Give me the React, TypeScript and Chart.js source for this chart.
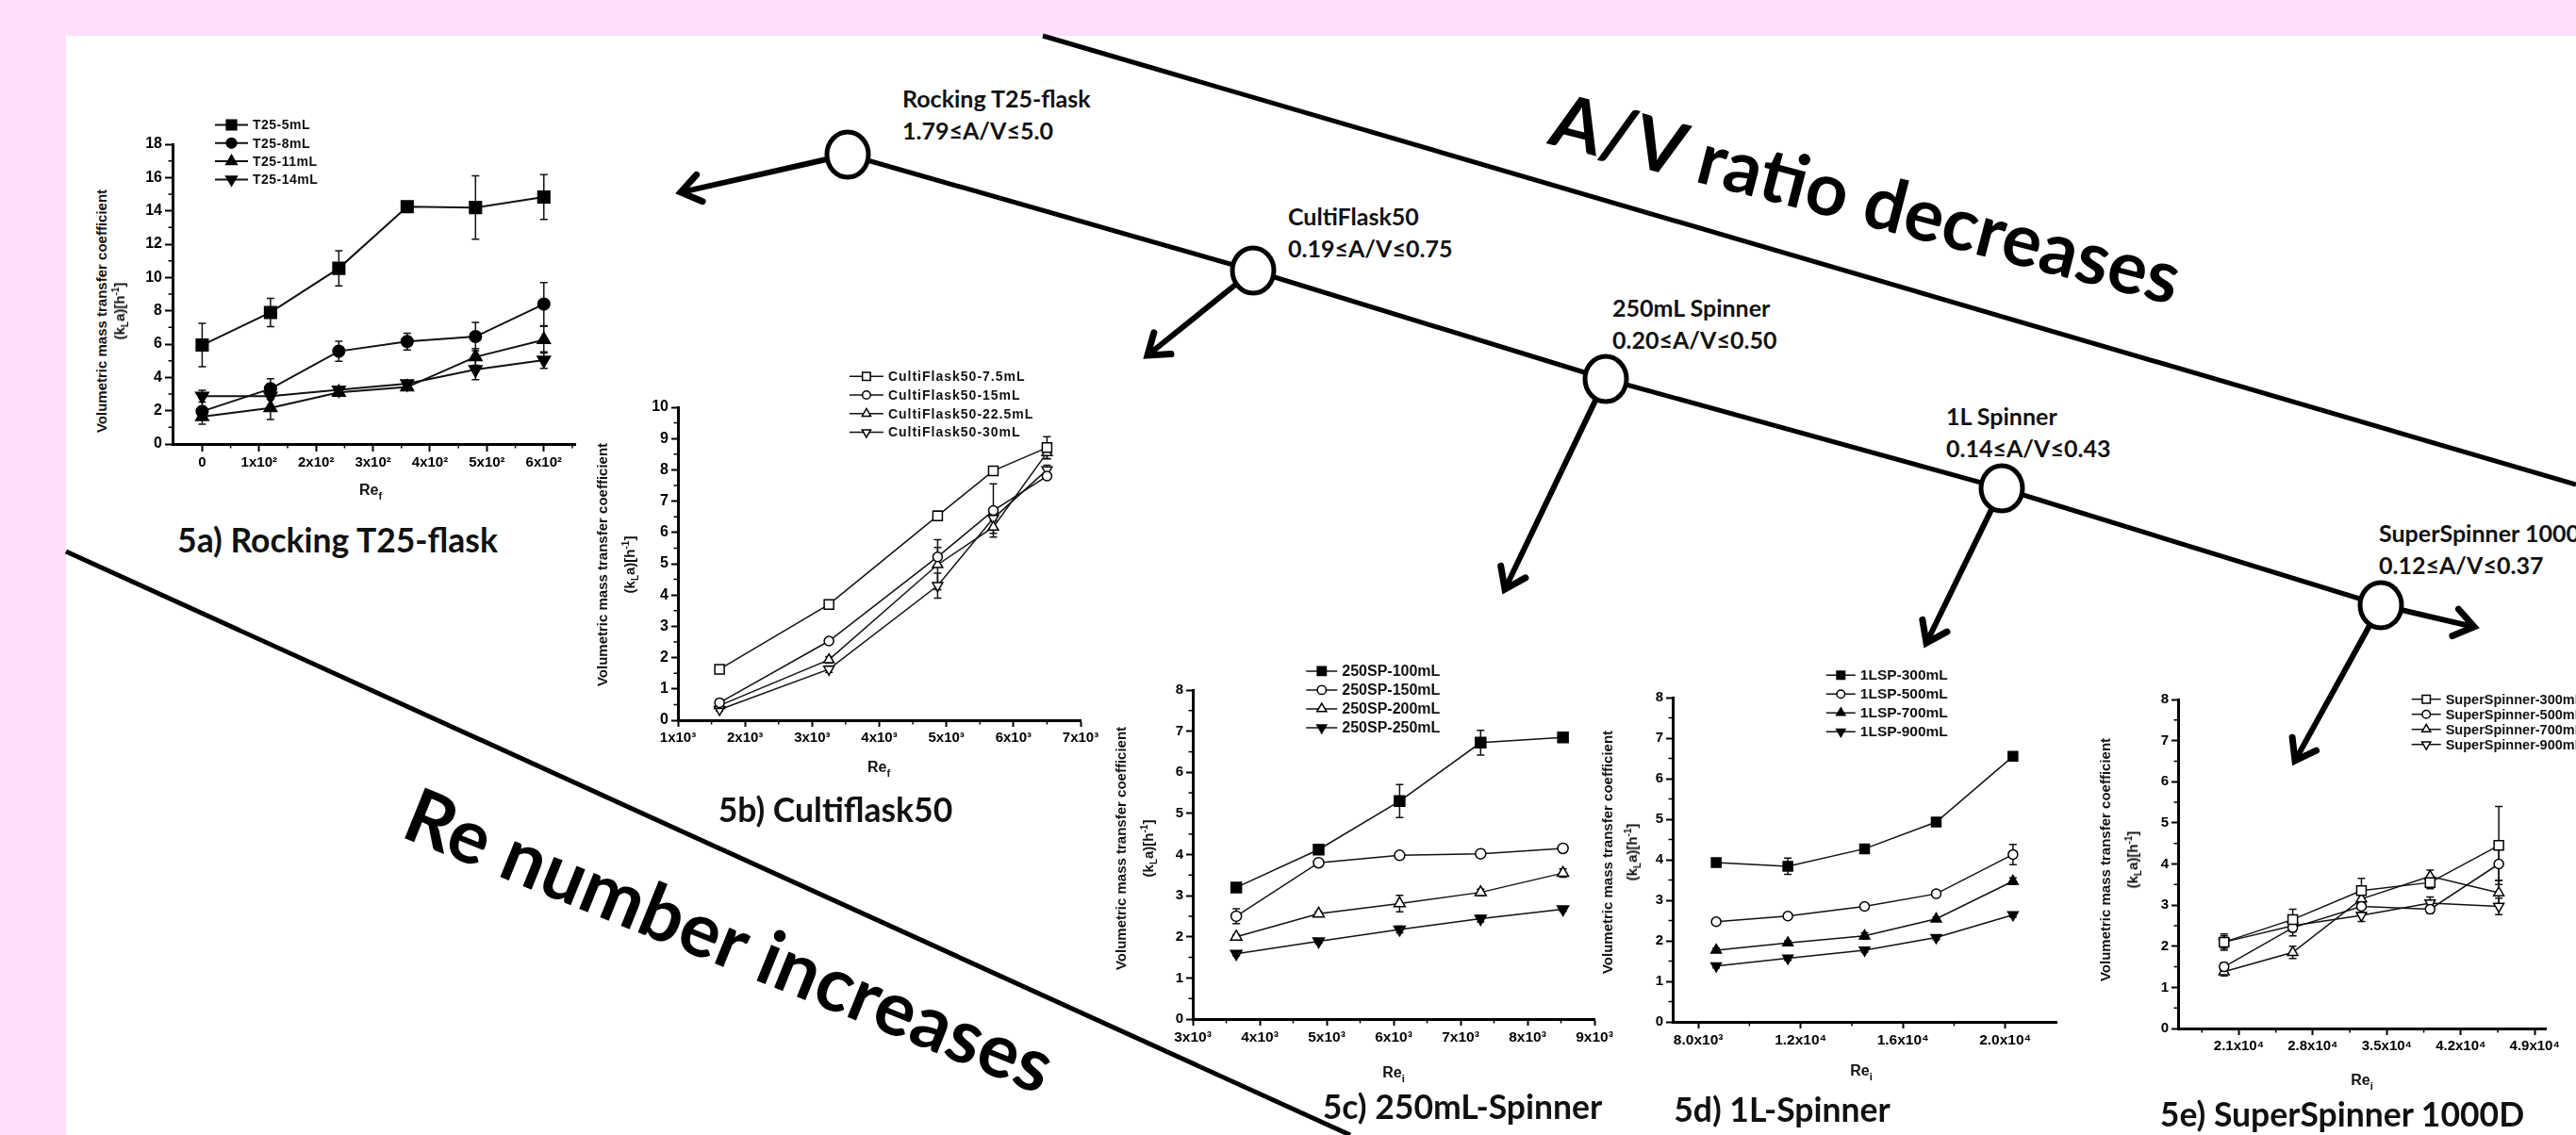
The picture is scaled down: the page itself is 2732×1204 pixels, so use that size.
import React, { useEffect, useRef } from 'react';
import { Chart, registerables } from 'chart.js';
Chart.register(...registerables);

const PAGE_W = 2732;
const PAGE_H = 1204;
const PINK = '#FFDFF9';

// ---------- 5a) Rocking T25-flask ----------
const re5a = [0, 120, 240, 360, 480, 600];
const t25_5mL = [5.94, 7.9, 10.55, 14.25, 14.2, 14.83];
const t25_5mL_err = [1.3, 0.85, 1.05, 0.2, 1.9, 1.35];
const t25_8mL = [1.96, 3.32, 5.57, 6.15, 6.45, 8.4];
const t25_8mL_err = [0.2, 0.6, 0.6, 0.5, 0.85, 1.3];
const t25_11mL = [1.64, 2.17, 3.1, 3.42, 5.23, 6.26];
const t25_11mL_err = [0.45, 0.7, 0.15, 0.15, 0.5, 0.8];
const t25_14mL = [2.87, 2.87, 3.25, 3.62, 4.47, 5.04];
const t25_14mL_err = [0.35, 0.2, 0.15, 0.15, 0.6, 0.5];
const x5aTicks = [0, 100, 200, 300, 400, 500, 600];
const x5aLabels = ['0', '1x10²', '2x10²', '3x10²', '4x10²', '5x10²', '6x10²'];
const x5aMinor = [50, 150, 250, 350, 450, 550, 650];
const y5aTicks = [0, 2, 4, 6, 8, 10, 12, 14, 16, 18];
const y5aMinor = [1, 3, 5, 7, 9, 11, 13, 15, 17];

// ---------- 5b) Cultiflask50 ----------
const re5b = [1620, 3250, 4870, 5700, 6500];
const cf_7_5mL = [1.63, 3.7, 6.53, 7.97, 8.71];
const cf_7_5mL_err = [0.05, 0.1, 0.15, 0.1, 0.35];
const cf_15mL = [0.56, 2.53, 5.22, 6.7, 7.8];
const cf_15mL_err = [0.05, 0.08, 0.3, 0.85, 0.1];
const cf_22_5mL = [0.47, 1.93, 4.97, 6.17, 8.55];
const cf_22_5mL_err = [0.05, 0.1, 0.8, 0.2, 0.2];
const cf_30mL = [0.34, 1.63, 4.3, 6.45, 8.0];
const cf_30mL_err = [0.05, 0.1, 0.4, 0.3, 0.15];
const x5bTicks = [1000, 2000, 3000, 4000, 5000, 6000, 7000];
const x5bLabels = ['1x10³', '2x10³', '3x10³', '4x10³', '5x10³', '6x10³', '7x10³'];
const x5bMinor = [1500, 2500, 3500, 4500, 5500, 6500];
const y5bTicks = [0, 1, 2, 3, 4, 5, 6, 7, 8, 9, 10];
const y5bMinor = [0.5, 1.5, 2.5, 3.5, 4.5, 5.5, 6.5, 7.5, 8.5, 9.5];

// ---------- 5c) 250mL-Spinner ----------
const re5c = [3650, 4880, 6090, 7300, 8530];
const sp250_100mL = [3.2, 4.12, 5.3, 6.72, 6.85];
const sp250_100mL_err = [0.05, 0.08, 0.4, 0.3, 0.05];
const sp250_150mL = [2.5, 3.8, 3.98, 4.02, 4.15];
const sp250_150mL_err = [0.18, 0.05, 0.05, 0.05, 0.05];
const sp250_200mL = [2.0, 2.56, 2.81, 3.08, 3.55];
const sp250_200mL_err = [0.05, 0.05, 0.2, 0.08, 0.1];
const sp250_250mL = [1.59, 1.89, 2.18, 2.44, 2.67];
const sp250_250mL_err = [0.05, 0.05, 0.08, 0.08, 0.05];
const x5cTicks = [3000, 4000, 5000, 6000, 7000, 8000, 9000];
const x5cLabels = ['3x10³', '4x10³', '5x10³', '6x10³', '7x10³', '8x10³', '9x10³'];
const x5cMinor = [3500, 4500, 5500, 6500, 7500, 8500];
const y8Ticks = [0, 1, 2, 3, 4, 5, 6, 7, 8];
const y8Minor = [0.5, 1.5, 2.5, 3.5, 4.5, 5.5, 6.5, 7.5];

// ---------- 5d) 1L-Spinner ----------
const re5d = [8700, 11500, 14500, 17300, 20300];
const sp1L_300mL = [3.93, 3.84, 4.27, 4.93, 6.55];
const sp1L_300mL_err = [0.05, 0.2, 0.05, 0.05, 0.05];
const sp1L_500mL = [2.47, 2.61, 2.85, 3.16, 4.13];
const sp1L_500mL_err = [0.05, 0.05, 0.05, 0.05, 0.25];
const sp1L_700mL = [1.77, 1.95, 2.12, 2.54, 3.47];
const sp1L_700mL_err = [0.05, 0.05, 0.08, 0.05, 0.08];
const sp1L_900mL = [1.38, 1.57, 1.77, 2.08, 2.64];
const sp1L_900mL_err = [0.05, 0.05, 0.05, 0.05, 0.05];
const x5dTicks = [8000, 12000, 16000, 20000];
const x5dLabels = ['8.0x10³', '1.2x10⁴', '1.6x10⁴', '2.0x10⁴'];
const x5dMinor = [10000, 14000, 18000];

// ---------- 5e) SuperSpinner 1000D ----------
const re5e = [19600, 26100, 32600, 39100, 45600];
const ss_300mL = [2.1, 2.65, 3.35, 3.55, 4.45];
const ss_300mL_err = [0.2, 0.25, 0.3, 0.15, 0.95];
const ss_500mL = [1.5, 2.45, 2.97, 2.9, 4.0];
const ss_500mL_err = [0.1, 0.2, 0.15, 0.1, 0.4];
const ss_700mL = [1.38, 1.85, 3.15, 3.7, 3.3];
const ss_700mL_err = [0.1, 0.15, 0.2, 0.15, 0.3];
const ss_900mL = [2.1, 2.5, 2.75, 3.05, 2.97];
const ss_900mL_err = [0.15, 0.15, 0.15, 0.15, 0.2];
const x5eTicks = [21000, 28000, 35000, 42000, 49000];
const x5eLabels = ['2.1x10⁴', '2.8x10⁴', '3.5x10⁴', '4.2x10⁴', '4.9x10⁴'];
const x5eMinor = [17500, 24500, 31500, 38500, 45500];

type Mk = 'rect' | 'circle' | 'triangle' | 'triangleDown';
interface SeriesDef { label: string; y: number[]; err: number[]; mk: Mk; filled: boolean }
interface PanelDef {
  key: string;
  area: { l: number; t: number; r: number; b: number };
  x: number[]; xMin: number; xMax: number; yMin: number; yMax: number;
  xTicks: number[]; xLabels: string[]; yTicks: number[]; xMinor: number[]; yMinor: number[];
  series: SeriesDef[];
  legend: { x: number; y: number; dy: number; len: number; font: number; spacing: number };
  yFont: number; xFont: number; mk: number; lineW: number; padR: number; tickLen: number;
}

const panels: PanelDef[] = [
  {
    key: '5a', area: { l: 183, t: 153, r: 610, b: 471 },
    x: re5a, xMin: -52, xMax: 655, yMin: 0, yMax: 18,
    xTicks: x5aTicks, xLabels: x5aLabels, yTicks: y5aTicks, xMinor: x5aMinor, yMinor: y5aMinor,
    series: [
      { label: 'T25-5mL', y: t25_5mL, err: t25_5mL_err, mk: 'rect', filled: true },
      { label: 'T25-8mL', y: t25_8mL, err: t25_8mL_err, mk: 'circle', filled: true },
      { label: 'T25-11mL', y: t25_11mL, err: t25_11mL_err, mk: 'triangle', filled: true },
      { label: 'T25-14mL', y: t25_14mL, err: t25_14mL_err, mk: 'triangleDown', filled: true },
    ],
    legend: { x: 228, y: 132.5, dy: 19.3, len: 35, font: 14, spacing: 0.5 },
    yFont: 16, xFont: 15, mk: 6.3, lineW: 2, padR: 40, tickLen: 8,
  },
  {
    key: '5b', area: { l: 718.6, t: 432.3, r: 1145.7, b: 764.4 },
    x: re5b, xMin: 1000, xMax: 7000, yMin: 0, yMax: 10,
    xTicks: x5bTicks, xLabels: x5bLabels, yTicks: y5bTicks, xMinor: x5bMinor, yMinor: y5bMinor,
    series: [
      { label: 'CultiFlask50-7.5mL', y: cf_7_5mL, err: cf_7_5mL_err, mk: 'rect', filled: false },
      { label: 'CultiFlask50-15mL', y: cf_15mL, err: cf_15mL_err, mk: 'circle', filled: false },
      { label: 'CultiFlask50-22.5mL', y: cf_22_5mL, err: cf_22_5mL_err, mk: 'triangle', filled: false },
      { label: 'CultiFlask50-30mL', y: cf_30mL, err: cf_30mL_err, mk: 'triangleDown', filled: false },
    ],
    legend: { x: 900.5, y: 399.5, dy: 19.8, len: 36, font: 14, spacing: 1 },
    yFont: 16, xFont: 15, mk: 5, lineW: 1.5, padR: 40, tickLen: 7,
  },
  {
    key: '5c', area: { l: 1265.4, t: 732.4, r: 1691, b: 1081.7 },
    x: re5c, xMin: 3000, xMax: 9000, yMin: 0, yMax: 8,
    xTicks: x5cTicks, xLabels: x5cLabels, yTicks: y8Ticks, xMinor: x5cMinor, yMinor: y8Minor,
    series: [
      { label: '250SP-100mL', y: sp250_100mL, err: sp250_100mL_err, mk: 'rect', filled: true },
      { label: '250SP-150mL', y: sp250_150mL, err: sp250_150mL_err, mk: 'circle', filled: false },
      { label: '250SP-200mL', y: sp250_200mL, err: sp250_200mL_err, mk: 'triangle', filled: false },
      { label: '250SP-250mL', y: sp250_250mL, err: sp250_250mL_err, mk: 'triangleDown', filled: true },
    ],
    legend: { x: 1385.7, y: 712.3, dy: 20, len: 33, font: 16, spacing: 0 },
    yFont: 15, xFont: 15.5, mk: 5.5, lineW: 1.5, padR: 40, tickLen: 7,
  },
  {
    key: '5d', area: { l: 1774.2, t: 740.3, r: 2181.6, b: 1084.3 },
    x: re5d, xMin: 7000, xMax: 22000, yMin: 0, yMax: 8,
    xTicks: x5dTicks, xLabels: x5dLabels, yTicks: y8Ticks, xMinor: x5dMinor, yMinor: y8Minor,
    series: [
      { label: '1LSP-300mL', y: sp1L_300mL, err: sp1L_300mL_err, mk: 'rect', filled: true },
      { label: '1LSP-500mL', y: sp1L_500mL, err: sp1L_500mL_err, mk: 'circle', filled: false },
      { label: '1LSP-700mL', y: sp1L_700mL, err: sp1L_700mL_err, mk: 'triangle', filled: true },
      { label: '1LSP-900mL', y: sp1L_900mL, err: sp1L_900mL_err, mk: 'triangleDown', filled: true },
    ],
    legend: { x: 1937, y: 716.5, dy: 20, len: 31, font: 15.5, spacing: 0 },
    yFont: 15, xFont: 15.5, mk: 5, lineW: 1.5, padR: 40, tickLen: 7,
  },
  {
    key: '5e', area: { l: 2310.3, t: 742.3, r: 2700.5, b: 1091.7 },
    x: re5e, xMin: 15250, xMax: 50050, yMin: 0, yMax: 8,
    xTicks: x5eTicks, xLabels: x5eLabels, yTicks: y8Ticks, xMinor: x5eMinor, yMinor: y8Minor,
    series: [
      { label: 'SuperSpinner-300mL', y: ss_300mL, err: ss_300mL_err, mk: 'rect', filled: false },
      { label: 'SuperSpinner-500mL', y: ss_500mL, err: ss_500mL_err, mk: 'circle', filled: false },
      { label: 'SuperSpinner-700mL', y: ss_700mL, err: ss_700mL_err, mk: 'triangle', filled: false },
      { label: 'SuperSpinner-900mL', y: ss_900mL, err: ss_900mL_err, mk: 'triangleDown', filled: false },
    ],
    legend: { x: 2558, y: 742, dy: 16, len: 31, font: 14.5, spacing: 0 },
    yFont: 15, xFont: 15, mk: 5, lineW: 1.5, padR: 32, tickLen: 7,
  },
];

const TICK_FONT = '"Liberation Sans", Arial, sans-serif';

function radiusFor(mk: Mk, base: number) {
  if (mk === 'rect') return base * 1.414;
  if (mk === 'circle') return base;
  return base * 1.25;
}

function drawMarker(ctx: CanvasRenderingContext2D, mk: Mk, x: number, y: number, r: number, filled: boolean) {
  ctx.beginPath();
  if (mk === 'rect') {
    const s = r * Math.SQRT1_2;
    ctx.rect(x - s, y - s, 2 * s, 2 * s);
  } else if (mk === 'circle') {
    ctx.arc(x, y, r, 0, Math.PI * 2);
  } else if (mk === 'triangle') {
    ctx.moveTo(x, y - r);
    ctx.lineTo(x + r * 0.866, y + r * 0.5);
    ctx.lineTo(x - r * 0.866, y + r * 0.5);
    ctx.closePath();
  } else {
    ctx.moveTo(x, y + r);
    ctx.lineTo(x + r * 0.866, y - r * 0.5);
    ctx.lineTo(x - r * 0.866, y - r * 0.5);
    ctx.closePath();
  }
  ctx.fillStyle = filled ? '#000' : '#fff';
  ctx.fill();
  ctx.stroke();
}

const PADL = 5, YW = 55, PADT = 45, XH = 45, PADB = 5;

function Panel({ p }: { p: PanelDef }) {
  const ref = useRef<HTMLCanvasElement>(null);
  const cw = Math.round(p.area.r - p.area.l + PADL + YW + p.padR);
  const ch = Math.round(p.area.b - p.area.t + PADT + XH + PADB);
  const cl = p.area.l - PADL - YW;
  const ct = p.area.t - PADT;

  useEffect(() => {
    const canvas = ref.current;
    if (!canvas) return;
    const datasets: any[] = p.series.map((s) => ({
      label: s.label,
      data: p.x.map((xv, i) => ({ x: xv, y: s.y[i] })),
      errors: s.err,
      borderColor: '#111',
      borderWidth: p.lineW,
      pointStyle: s.mk === 'triangleDown' ? 'triangle' : s.mk,
      pointRotation: s.mk === 'triangleDown' ? 180 : 0,
      pointRadius: radiusFor(s.mk, p.mk),
      pointBackgroundColor: s.filled ? '#000' : '#fff',
      pointBorderColor: '#000',
      pointBorderWidth: 1.5,
      tension: 0,
      fill: false,
      clip: false,
    }));

    const decor = {
      id: 'decor' + p.key,
      beforeDatasetsDraw(chart: any) {
        const ctx = chart.ctx as CanvasRenderingContext2D;
        const ys = chart.scales.y;
        ctx.save();
        ctx.strokeStyle = '#111';
        ctx.lineWidth = 1.5;
        chart.data.datasets.forEach((ds: any, di: number) => {
          const meta = chart.getDatasetMeta(di);
          ds.errors.forEach((e: number, i: number) => {
            const el = meta.data[i];
            if (!el || !e) return;
            const yv = ds.data[i].y;
            const top = ys.getPixelForValue(yv + e);
            const bot = ys.getPixelForValue(yv - e);
            const cap = 4;
            ctx.beginPath();
            ctx.moveTo(el.x, top); ctx.lineTo(el.x, bot);
            ctx.moveTo(el.x - cap, top); ctx.lineTo(el.x + cap, top);
            ctx.moveTo(el.x - cap, bot); ctx.lineTo(el.x + cap, bot);
            ctx.stroke();
          });
        });
        ctx.restore();
      },
      afterDraw(chart: any) {
        const ctx = chart.ctx as CanvasRenderingContext2D;
        const xs = chart.scales.x;
        const ys = chart.scales.y;
        const ca = chart.chartArea;
        ctx.save();
        ctx.strokeStyle = '#000';
        ctx.lineWidth = 1.5;
        ctx.beginPath();
        p.xMinor.forEach((v) => {
          const px = xs.getPixelForValue(v);
          ctx.moveTo(px, ca.bottom); ctx.lineTo(px, ca.bottom + 4.5);
        });
        p.yMinor.forEach((v) => {
          const py = ys.getPixelForValue(v);
          ctx.moveTo(ca.left, py); ctx.lineTo(ca.left - 4.5, py);
        });
        ctx.stroke();

        // legend
        const lg = p.legend;
        ctx.font = `bold ${lg.font}px ${TICK_FONT}`;
        (ctx as any).letterSpacing = lg.spacing ? lg.spacing + 'px' : '0px';
        ctx.textBaseline = 'middle';
        ctx.textAlign = 'left';
        chart.data.datasets.forEach((ds: any, i: number) => {
          const s = p.series[i];
          const yy = lg.y - ct + i * lg.dy;
          const xx = lg.x - cl;
          ctx.strokeStyle = '#111';
          ctx.lineWidth = p.lineW;
          ctx.beginPath();
          ctx.moveTo(xx, yy); ctx.lineTo(xx + lg.len, yy);
          ctx.stroke();
          ctx.lineWidth = 1.5;
          ctx.strokeStyle = '#000';
          drawMarker(ctx, s.mk, xx + lg.len / 2, yy, radiusFor(s.mk, p.mk) * 0.85, s.filled);
          ctx.fillStyle = '#111';
          ctx.fillText(ds.label, xx + lg.len + 5, yy + 1);
        });
        ctx.restore();
      },
    };

    const axisCommon = (font: number) => ({
      grid: { display: true, drawOnChartArea: false, drawTicks: true, tickLength: p.tickLen, tickWidth: 2, tickColor: '#000', color: '#000' },
      border: { display: true, color: '#000', width: 3 },
      ticks: { color: '#000', autoSkip: false, maxRotation: 0, minRotation: 0, padding: 3, font: { family: TICK_FONT, weight: 'bold' as const, size: font } },
    });

    const xc = axisCommon(p.xFont);
    const yc = axisCommon(p.yFont);

    const chart = new Chart(canvas, {
      type: 'line',
      data: { datasets },
      options: {
        responsive: false,
        maintainAspectRatio: false,
        animation: false,
        events: [],
        layout: { padding: { left: PADL, right: p.padR, top: PADT, bottom: PADB }, autoPadding: false } as any,
        plugins: { legend: { display: false }, tooltip: { enabled: false }, title: { display: false } },
        scales: {
          x: {
            type: 'linear', position: 'bottom', min: p.xMin, max: p.xMax,
            ...xc,
            ticks: { ...xc.ticks, callback: (_v: any, i: number) => p.xLabels[i] },
            afterBuildTicks: (s: any) => { s.ticks = p.xTicks.map((v) => ({ value: v })); },
            afterFit: (s: any) => { s.height = XH; },
          } as any,
          y: {
            type: 'linear', position: 'left', min: p.yMin, max: p.yMax,
            ...yc,
            ticks: { ...yc.ticks, callback: (_v: any, i: number) => String(p.yTicks[i]) },
            afterBuildTicks: (s: any) => { s.ticks = p.yTicks.map((v) => ({ value: v })); },
            afterFit: (s: any) => { s.width = YW; },
          } as any,
        },
      },
      plugins: [decor],
    });
    return () => chart.destroy();
  }, []);

  return (
    <canvas
      ref={ref}
      width={cw}
      height={ch}
      style={{ position: 'absolute', left: cl, top: ct, width: cw, height: ch }}
    />
  );
}

// ---------- decorative overlay ----------
const circles: [number, number][] = [
  [899, 164], [1329, 287], [1703, 402], [2123, 518], [2525, 642],
];
const arrows: { from: [number, number]; to: [number, number] }[] = [
  { from: [899, 164], to: [722, 204] },
  { from: [1329, 287], to: [1217, 377] },
  { from: [1703, 402], to: [1596, 625] },
  { from: [2123, 518], to: [2043, 682] },
  { from: [2525, 642], to: [2434, 807] },
  { from: [2525, 642], to: [2624, 665] },
];

function Arrow({ from, to }: { from: [number, number]; to: [number, number] }) {
  const [x1, y1] = from;
  const [x2, y2] = to;
  const dx = x2 - x1, dy = y2 - y1;
  const L = Math.hypot(dx, dy);
  const ux = dx / L, uy = dy / L;
  const sx = x1 + ux * 24, sy = y1 + uy * 24;
  const head = 25, ang = 0.62;
  const bx = -ux, by = -uy;
  const c = Math.cos(ang), s = Math.sin(ang);
  const h1x = x2 + head * (bx * c - by * s), h1y = y2 + head * (bx * s + by * c);
  const h2x = x2 + head * (bx * c + by * s), h2y = y2 + head * (-bx * s + by * c);
  return (
    <g stroke="#000" strokeWidth={6} fill="none">
      <line x1={sx} y1={sy} x2={x2 - ux * 2} y2={y2 - uy * 2} />
      <polyline points={`${h1x},${h1y} ${x2},${y2} ${h2x},${h2y}`} strokeWidth={7} strokeLinejoin="miter" strokeLinecap="round" />
    </g>
  );
}

const annots = [
  { x: 957, cy: 105, l1: 'Rocking T25-flask', l2: '1.79≤A/V≤5.0' },
  { x: 1366, cy: 230, l1: 'CultiFlask50', l2: '0.19≤A/V≤0.75' },
  { x: 1710, cy: 327, l1: '250mL Spinner', l2: '0.20≤A/V≤0.50' },
  { x: 2064, cy: 442, l1: '1L Spinner', l2: '0.14≤A/V≤0.43' },
  { x: 2523, cy: 566, l1: 'SuperSpinner 1000D', l2: '0.12≤A/V≤0.37' },
];

const yTitles = [
  { x1: 107, x2: 128, cy: 330 },
  { x1: 637.6, x2: 669, cy: 599 },
  { x1: 1188, x2: 1219, cy: 900 },
  { x1: 1704, x2: 1732, cy: 904 },
  { x1: 2232, x2: 2263, cy: 912 },
];
const xTitles = [
  { x: 393, y: 522, sub: 'f' },
  { x: 932, y: 816, sub: 'f' },
  { x: 1478, y: 1140, sub: 'i' },
  { x: 1974, y: 1138, sub: 'i' },
  { x: 2505, y: 1148, sub: 'i' },
];
const captions = [
  { x: 358, y: 573, t: '5a) Rocking T25-flask' },
  { x: 886, y: 859, t: '5b) Cultiflask50' },
  { x: 1551, y: 1174, t: '5c) 250mL-Spinner' },
  { x: 1890, y: 1177, t: '5d) 1L-Spinner' },
  { x: 2484, y: 1182, t: '5e) SuperSpinner 1000D' },
];

const ARIAL = '"Liberation Sans", Arial, sans-serif';
const LATO = 'Lato, "Open Sans", sans-serif';

export default function App() {
  return (
    <div style={{ position: 'absolute', left: 0, top: 0, width: PAGE_W, height: PAGE_H, background: PINK, overflow: 'hidden' }}>
      <div style={{ position: 'absolute', left: 70, top: 38, width: PAGE_W - 70, height: PAGE_H - 38, background: '#fff' }} />
      <svg width={PAGE_W} height={PAGE_H} style={{ position: 'absolute', left: 0, top: 0 }}>
        <line x1={1106} y1={38} x2={2732} y2={514} stroke="#000" strokeWidth={5} />
        <line x1={70} y1={585} x2={1432} y2={1204} stroke="#000" strokeWidth={5} />
        <polyline points={circles.map((c) => c.join(',')).join(' ')} fill="none" stroke="#000" strokeWidth={5} />
        {arrows.map((a, i) => <Arrow key={i} from={a.from} to={a.to} />)}
        {circles.map((c, i) => (
          <ellipse key={i} cx={c[0]} cy={c[1]} rx={22} ry={24} fill="#fff" stroke="#000" strokeWidth={5} />
        ))}
      </svg>

      {panels.map((p) => <Panel key={p.key} p={p} />)}

      {annots.map((a, i) => (
        <div key={i} style={{ position: 'absolute', left: a.x, top: a.cy - 17.7, fontFamily: LATO, fontWeight: 700, fontSize: 25, lineHeight: '34px', color: '#111', whiteSpace: 'nowrap' }}>
          <div>{a.l1}</div>
          <div>{a.l2}</div>
        </div>
      ))}

      {yTitles.map((t, i) => (
        <React.Fragment key={i}>
          <div style={{ position: 'absolute', left: t.x1, top: t.cy, transform: 'translate(-50%, -50%) rotate(-90deg)', fontFamily: ARIAL, fontWeight: 700, fontSize: 15, lineHeight: 1, whiteSpace: 'nowrap', color: '#111' }}>
            Volumetric mass transfer coefficient
          </div>
          <div style={{ position: 'absolute', left: t.x2, top: t.cy, transform: 'translate(-50%, -50%) rotate(-90deg)', fontFamily: ARIAL, fontWeight: 700, fontSize: 15, lineHeight: 1, whiteSpace: 'nowrap', color: '#111' }}>
            (k<sub style={{ fontSize: 10 }}>L</sub>a)[h<sup style={{ fontSize: 10 }}>-1</sup>]
          </div>
        </React.Fragment>
      ))}

      {xTitles.map((t, i) => (
        <div key={i} style={{ position: 'absolute', left: t.x, top: t.y, transform: 'translate(-50%, -50%)', fontFamily: ARIAL, fontWeight: 700, fontSize: 16, lineHeight: 1, whiteSpace: 'nowrap', color: '#111' }}>
          Re<sub style={{ fontSize: 11 }}>{t.sub}</sub>
        </div>
      ))}

      {captions.map((c, i) => (
        <div key={i} style={{ position: 'absolute', left: c.x, top: c.y, transform: 'translate(-50%, -50%)', fontFamily: LATO, fontWeight: 700, fontSize: 35.5, lineHeight: 1, whiteSpace: 'nowrap', color: '#111' }}>
          {c.t}
        </div>
      ))}

      <div style={{ position: 'absolute', left: 1640, top: 152, transformOrigin: '0 0', transform: 'rotate(14.5deg) translate(0, -69px)', fontFamily: LATO, fontWeight: 700, fontSize: 78, lineHeight: 1, whiteSpace: 'nowrap', color: '#000' }}>
        A/V ratio decreases
      </div>
      <div style={{ position: 'absolute', left: 424, top: 885, transformOrigin: '0 0', transform: 'rotate(22deg) translate(0, -69px)', fontFamily: LATO, fontWeight: 700, fontSize: 80, lineHeight: 1, whiteSpace: 'nowrap', color: '#000' }}>
        Re number increases
      </div>
    </div>
  );
}
